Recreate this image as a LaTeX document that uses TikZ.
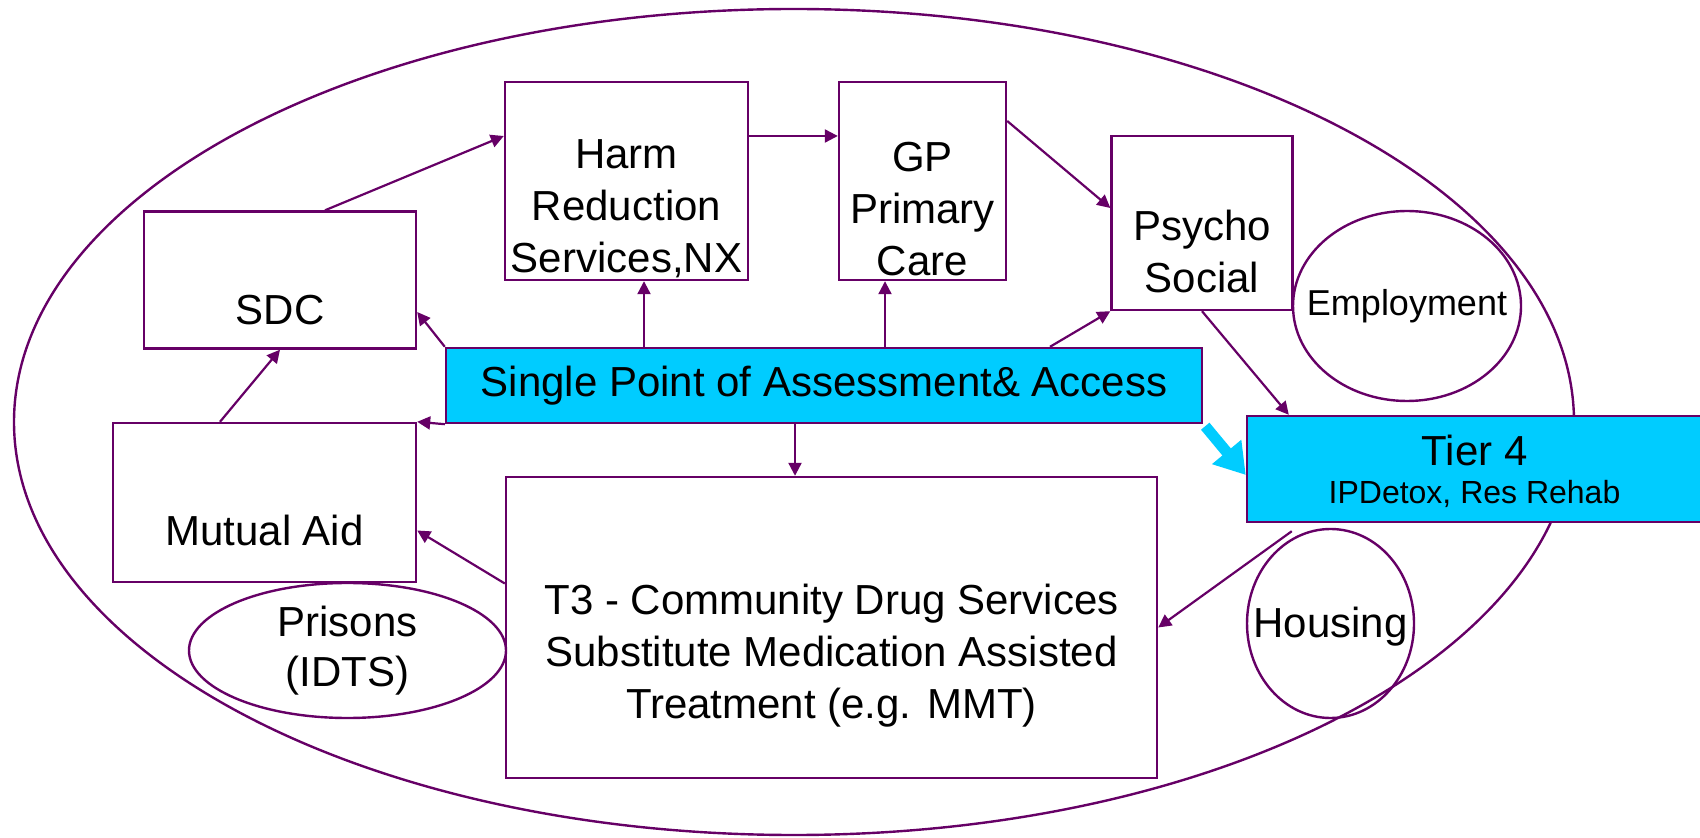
\documentclass[tikz,border=0pt]{standalone}
\usepackage{fontspec}
\setmainfont{Liberation Sans}
\usetikzlibrary{arrows.meta,shapes.geometric}

\definecolor{plum}{HTML}{660066}
\definecolor{skyfill}{HTML}{00CCFF}

\begin{document}
\begin{tikzpicture}[x=0.5pt,y=-0.5pt,
    box/.style={draw=plum,line width=1.2pt,fill=white,inner sep=0pt},
    cbox/.style={box,fill=skyfill},
    oval/.style={ellipse,draw=plum,line width=1.2pt,inner sep=0pt},
    txt/.style={align=center,inner sep=0pt,font=\fontsize{21}{26}\selectfont},
    arr/.style={draw=plum,line width=1.1pt,-{Triangle[length=6.5pt,width=6.5pt]}},
    fat/.style={draw=skyfill,line width=5.5pt,-{Triangle[length=15pt,width=18pt]}}]
          \useasboundingbox (0,0) rectangle (1700,838);
          \draw[plum,line width=1.2pt] (794,422) ellipse [x radius=390pt,y radius=206.5pt];

          % boxes
          \node[box,minimum width=136pt,minimum height=68.5pt] (sdc) at (280,280) {};
          \node[box,minimum width=121.5pt,minimum height=99pt] (harm) at (626.5,181) {};
          \node[box,minimum width=83.5pt,minimum height=99pt] (gp) at (922.5,181) {};
          \node[box,minimum width=90.5pt,minimum height=87pt] (psycho) at (1202,223) {};
          \node[cbox,minimum width=378pt,minimum height=37.5pt] (spa) at (824,385.5) {};
          \node[box,minimum width=151.5pt,minimum height=79.5pt] (mutual) at (264.5,502.5) {};
          \node[box,minimum width=325.5pt,minimum height=150.5pt] (t3) at (831.5,627.5) {};
          \node[cbox,minimum width=227.5pt,minimum height=53pt] (tier4) at (1474.5,469) {};

          % ovals
          \node[oval,minimum width=114pt,minimum height=95pt] (employ) at (1407,306) {};
          \node[oval,minimum width=158.5pt,minimum height=67.5pt] (prisons) at (347.5,650.5) {};
          \node[oval,minimum width=83.5pt,minimum height=94.5pt] (housing) at (1330.5,623.5) {};

          % texts
          \node[txt] (sdc-t) at ([yshift=-15pt]sdc.center) {SDC};
          \node[txt] (harm-t) at ([yshift=-14pt]harm.center) {Harm\\Reduction\\Services,NX};
          \node[txt] (gp-t) at ([yshift=-14pt]gp.center) {GP\\Primary\\Care};
          \node[txt] (psycho-t) at ([yshift=-14pt]psycho.center) {Psycho\\Social};
          \node[txt] (spa-t) at (spa.center) {Single Point of Assessment\& Access};
          \node[txt] (mutual-t) at ([yshift=-14pt]mutual.center) {Mutual Aid};
          \node[txt] (t3-t) at ([yshift=-14pt]t3.center) {T3 - Community Drug Services\\Substitute Medication Assisted\\Treatment (e.g. MMT)};
          \node[txt] (tier4-t) at ([yshift=9.5pt]tier4.center) {Tier 4};
          \node[txt,font=\fontsize{16}{19}\selectfont] (tier4-s) at ([yshift=-12.5pt]tier4.center) {IPDetox, Res Rehab};
          \node[txt,font=\fontsize{18}{22}\selectfont] (employ-t) at (employ.center) {Employment};
          \node[txt,font=\fontsize{21}{25}\selectfont] (prisons-t) at (prisons.center) {Prisons\\(IDTS)};
          \node[txt] (housing-t) at ([yshift=-1.5pt]housing.center) {Housing};

          % connectors
          \draw[arr] ([xshift=22.5pt]sdc.north) -- ([yshift=22.5pt]harm.west);
          \draw[arr] ([yshift=22.5pt]harm.east) -- ([yshift=22.5pt]gp.west);
          \draw[arr] ([yshift=30pt]gp.east) -- ([yshift=7.5pt]psycho.west);
          \draw[arr] ([xshift=-90pt]spa.north) -- ([xshift=8.75pt]harm.south);
          \draw[arr] ([xshift=30.5pt]spa.north) -- ([xshift=-18.75pt]gp.south);
          \draw[arr] ([xshift=113pt]spa.north) -- (psycho.south west);
          \draw[arr] (spa.north west) -- ([yshift=-16pt]sdc.east);
          \draw[arr] (spa.south west) -- (mutual.north east);
          \draw[arr] ([xshift=-14.5pt]spa.south) -- ([xshift=-18.25pt]t3.north);
          \draw[arr] ([xshift=-22.25pt]mutual.north) -- (sdc.south);
          \draw[arr] ([yshift=22pt]t3.west) -- ([yshift=-14pt]mutual.east);
          \draw[arr] (psycho.south) -- ([xshift=21.5pt]tier4.north west);
          \draw[arr] ([xshift=23pt,yshift=-4pt]tier4.south west) -- (t3.east);
          \draw[fat] ([xshift=1pt,yshift=-1pt]spa.south east) -- ([yshift=-3pt]tier4.west);
\end{tikzpicture}
\end{document}
